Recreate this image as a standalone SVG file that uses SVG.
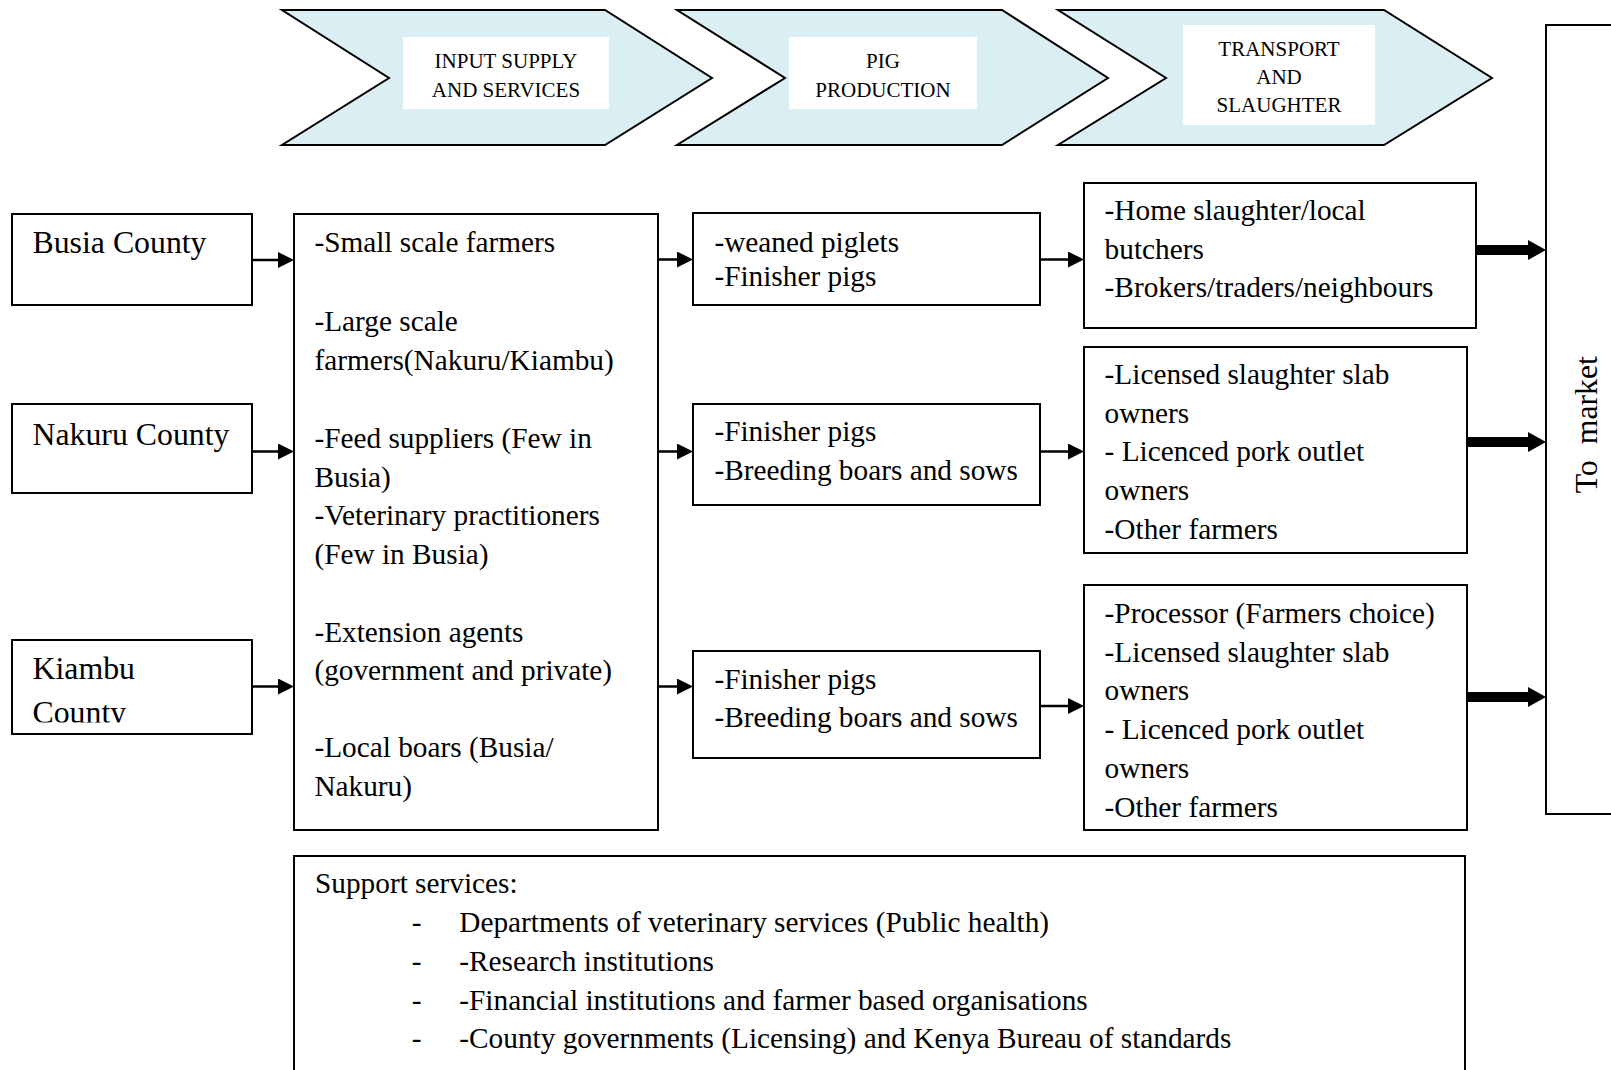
<svg xmlns="http://www.w3.org/2000/svg" width="1611" height="1070" viewBox="0 0 1611 1070">
<defs>
<style>
.chev{fill:#DAEEF3;stroke:#000;stroke-width:2;stroke-linejoin:miter}
.lbl{fill:#fff;stroke:none}
.hd{font-family:"Liberation Serif","Times New Roman",serif;font-size:21px;fill:#000;text-anchor:middle}
.box{fill:#fff;stroke:#000;stroke-width:2}
.t{font-family:"Liberation Serif","Times New Roman",serif;font-size:29.3px;fill:#000}
.c{font-family:"Liberation Serif","Times New Roman",serif;font-size:31.8px;fill:#000}
.ln{stroke:#000;stroke-width:2.5;fill:none}
.thick{stroke:#000;stroke-width:10;fill:none}
</style>
<marker id="ah" viewBox="0 0 16 16" refX="8" refY="8" markerWidth="16" markerHeight="16" markerUnits="userSpaceOnUse" orient="auto">
<path d="M0,0 L16,8 L0,16 z" fill="#000"/>
</marker>
<marker id="ahb" viewBox="0 0 18 20" refX="8" refY="10" markerWidth="18" markerHeight="20" markerUnits="userSpaceOnUse" orient="auto">
<path d="M0,0 L18,10 L0,20 z" fill="#000"/>
</marker>
<clipPath id="kc"><rect x="12" y="640" width="240" height="82.5"/></clipPath>
</defs>
<rect width="1611" height="1070" fill="#fff"/>

<g id="stage-input">
<polygon class="chev" points="282,10 605,10 712,78 605,145 282,145 389,78"/>
<rect class="lbl" x="403" y="37" width="206" height="72"/>
<text class="hd" x="506" y="68.3">INPUT SUPPLY</text>
<text class="hd" x="506" y="96.7">AND SERVICES</text>
</g>
<g id="stage-production">
<polygon class="chev" points="677,10 1002,10 1108,78 1002,145 677,145 785,78"/>
<rect class="lbl" x="789" y="37" width="188" height="72"/>
<text class="hd" x="883" y="68.3">PIG</text>
<text class="hd" x="883" y="96.7">PRODUCTION</text>
</g>
<g id="stage-transport">
<polygon class="chev" points="1058,10 1384,10 1492,78 1384,145 1058,145 1166,78"/>
<rect class="lbl" x="1183" y="25" width="192" height="100"/>
<text class="hd" x="1279" y="56">TRANSPORT</text>
<text class="hd" x="1279" y="84">AND</text>
<text class="hd" x="1279" y="112">SLAUGHTER</text>
</g>

<g id="busia">
<rect class="box" x="12" y="214" width="240" height="91"/>
<text class="c" x="32.5" y="253">Busia County</text>
</g>
<g id="nakuru">
<rect class="box" x="12" y="404" width="240" height="89"/>
<text class="c" x="32.5" y="445">Nakuru County</text>
</g>
<g id="kiambu">
<rect class="box" x="12" y="640" width="240" height="94"/>
<g clip-path="url(#kc)">
<text class="c" x="32.5" y="679">Kiambu</text>
<text class="c" x="32.5" y="723">County</text>
</g>
</g>

<g id="input-supply">
<rect class="box" x="294" y="214" width="364" height="616"/>
<text class="t" x="314.4" y="252">-Small scale farmers</text>
<text class="t" x="314.4" y="331">-Large scale</text>
<text class="t" x="314.4" y="370">farmers(Nakuru/Kiambu)</text>
<text class="t" x="314.4" y="448">-Feed suppliers (Few in</text>
<text class="t" x="314.4" y="487">Busia)</text>
<text class="t" x="314.4" y="525">-Veterinary practitioners</text>
<text class="t" x="314.4" y="563.5">(Few in Busia)</text>
<text class="t" x="314.4" y="641.5">-Extension agents</text>
<text class="t" x="314.4" y="680">(government and private)</text>
<text class="t" x="314.4" y="757">-Local boars (Busia/</text>
<text class="t" x="314.4" y="796">Nakuru)</text>
</g>

<g id="prod-1">
<rect class="box" x="693" y="213" width="347" height="92"/>
<text class="t" x="714.4" y="252">-weaned piglets</text>
<text class="t" x="714.4" y="286">-Finisher pigs</text>
</g>
<g id="prod-2">
<rect class="box" x="693" y="404" width="347" height="101"/>
<text class="t" x="714.4" y="441">-Finisher pigs</text>
<text class="t" x="714.4" y="479.5">-Breeding boars and sows</text>
</g>
<g id="prod-3">
<rect class="box" x="693" y="651" width="347" height="107"/>
<text class="t" x="714.4" y="688.5">-Finisher pigs</text>
<text class="t" x="714.4" y="727">-Breeding boars and sows</text>
</g>

<g id="trans-1">
<rect class="box" x="1084" y="183" width="392" height="145"/>
<text class="t" x="1104.6" y="220">-Home slaughter/local</text>
<text class="t" x="1104.6" y="258.5">butchers</text>
<text class="t" x="1104.6" y="297">-Brokers/traders/neighbours</text>
</g>
<g id="trans-2">
<rect class="box" x="1084" y="347" width="383" height="206"/>
<text class="t" x="1104.6" y="383.5">-Licensed slaughter slab</text>
<text class="t" x="1104.6" y="422.5">owners</text>
<text class="t" x="1104.6" y="461">- Licenced pork outlet</text>
<text class="t" x="1104.6" y="500">owners</text>
<text class="t" x="1104.6" y="538.5">-Other farmers</text>
</g>
<g id="trans-3">
<rect class="box" x="1084" y="585" width="383" height="245"/>
<text class="t" x="1104.6" y="623">-Processor (Farmers choice)</text>
<text class="t" x="1104.6" y="661.5">-Licensed slaughter slab</text>
<text class="t" x="1104.6" y="700">owners</text>
<text class="t" x="1104.6" y="739">- Licenced pork outlet</text>
<text class="t" x="1104.6" y="777.5">owners</text>
<text class="t" x="1104.6" y="816.5">-Other farmers</text>
</g>

<g id="market">
<rect class="box" x="1546" y="25" width="120" height="789"/>
<text class="c" transform="translate(1597,424.7) rotate(-90)" text-anchor="middle" style="white-space:pre">To  market</text>
</g>

<g id="support">
<rect class="box" x="294" y="856" width="1171" height="240"/>
<text class="t" x="315" y="893.3">Support services:</text>
<text class="t" x="411.7" y="932">-</text>
<text class="t" x="459.3" y="932">Departments of veterinary services (Public health)</text>
<text class="t" x="411.7" y="970.5">-</text>
<text class="t" x="459.3" y="970.5">-Research institutions</text>
<text class="t" x="411.7" y="1009.5">-</text>
<text class="t" x="459.3" y="1009.5">-Financial institutions and farmer based organisations</text>
<text class="t" x="411.7" y="1048.3">-</text>
<text class="t" x="459.3" y="1048.3">-County governments (Licensing) and Kenya Bureau of standards</text>
</g>

<g id="connectors">
<line class="ln" x1="252" y1="260" x2="286" y2="260" marker-end="url(#ah)"/>
<line class="ln" x1="252" y1="451.5" x2="286" y2="451.5" marker-end="url(#ah)"/>
<line class="ln" x1="252" y1="686.5" x2="286" y2="686.5" marker-end="url(#ah)"/>
<line class="ln" x1="658" y1="259.5" x2="685" y2="259.5" marker-end="url(#ah)"/>
<line class="ln" x1="658" y1="451.5" x2="685" y2="451.5" marker-end="url(#ah)"/>
<line class="ln" x1="658" y1="686.5" x2="685" y2="686.5" marker-end="url(#ah)"/>
<line class="ln" x1="1040" y1="259.5" x2="1076" y2="259.5" marker-end="url(#ah)"/>
<line class="ln" x1="1040" y1="451.5" x2="1076" y2="451.5" marker-end="url(#ah)"/>
<line class="ln" x1="1040" y1="706" x2="1076" y2="706" marker-end="url(#ah)"/>
<line class="thick" x1="1476" y1="250" x2="1536" y2="250" marker-end="url(#ahb)"/>
<line class="thick" x1="1467" y1="442" x2="1536" y2="442" marker-end="url(#ahb)"/>
<line class="thick" x1="1467" y1="697" x2="1536" y2="697" marker-end="url(#ahb)"/>
</g>
</svg>
